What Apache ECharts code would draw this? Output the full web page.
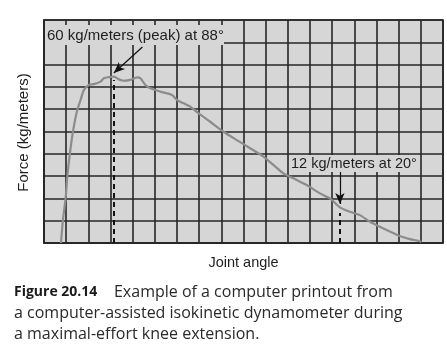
<!DOCTYPE html>
<html>
<head>
<meta charset="utf-8">
<script src="https://cdn.jsdelivr.net/npm/echarts@6/dist/echarts.min.js"></script>
<style>
  html, body { margin: 0; padding: 0; background: #ffffff; }
  #chart { width: 447px; height: 358px; }
</style>
</head>
<body>
<div id="chart"></div>
<script>
// ---- data ----
const angleDeg = [103.9, 103.3, 102.5, 102.0, 101.2, 100.3, 99.0, 98.0, 97.0, 95.5, 94.0, 92.0, 91.0, 89.5, 88.0, 86.5, 85.0, 83.0, 81.0, 80.0, 78.5, 77.0, 74.0, 70.5, 69.0, 67.0, 65.0, 62.5, 59.0, 55.0, 51.0, 47.0, 43.0, 40.0, 37.0, 34.0, 30.0, 26.0, 23.0, 20.0, 17.0, 14.0, 11.0, 8.0, 5.0, 2.0, -1.0, -3.5, -4.5];
const forceKgM = [0, 8.3, 16.0, 23.8, 32.2, 39.9, 47.7, 51.3, 54.9, 56.7, 57.0, 57.9, 59.1, 59.5, 59.7, 58.7, 58.2, 58.5, 59.4, 59.1, 56.7, 55.5, 54.3, 53.1, 51.3, 50.1, 48.9, 46.5, 43.5, 39.9, 36.9, 34.0, 31.0, 28.0, 25.0, 23.2, 20.8, 17.8, 16.0, 12.8, 11.2, 10.0, 7.6, 5.8, 4.1, 2.5, 1.4, 0.8, 0.4];

const angleRange = [-11, 109];       // joint angle shown across the plot (reversed)
const forceRange = [0, 80];
const forceStep = 8;                 // one grid row
const gridColumns = 18;

const peakAngle = 88, peakForce = 60, peakLineTop = 58.5;
const endAngle = 20, endForce = 12, endLineTop = 10.8;
const peakArrow = [[79.4, 70.3], [88, 61]];
const endArrow = [[20, 25.5], [20, 14.0]];

const peakLabel = '60 kg/meters (peak) at 88°';
const endLabel = '12 kg/meters at 20°';
const xTitle = 'Joint angle';
const yTitle = 'Force (kg/meters)';
const captionLines = [
  ['Figure 20.14', '    Example of a computer printout from'],
  ['', 'a computer-assisted isokinetic dynamometer during'],
  ['', 'a maximal-effort knee extension.']
];

const chart = echarts.init(document.getElementById('chart'), null, { renderer: 'canvas' });

const gridLine = { color: '#262626', width: 1.6 };
const dashStyle = { color: '#111', width: 2, type: [5, 4] };
const arrowStyle = { color: '#111', width: 1.2, type: 'solid' };

const captionGraphics = captionLines.map((ln, i) => ({
  type: 'text',
  left: 14,
  top: 284 + i * 21,
  z: 10,
  style: {
    text: (ln[0] ? '{b|' + ln[0] + '}' : '') + ln[1],
    font: '16px "Open Sans", sans-serif',
    fill: '#2a2a2a',
    rich: { b: { font: 'bold 14px "Open Sans", sans-serif', fill: '#1a1a1a' } }
  }
}));

chart.setOption({
  animation: false,
  backgroundColor: '#ffffff',
  grid: {
    left: 44, top: 20, width: 399, height: 223,
    show: true, backgroundColor: '#d6d6d6',
    borderColor: '#262626', borderWidth: 1.6
  },
  xAxis: [
    {
      type: 'value', min: 0, max: gridColumns, interval: 1,
      axisLine: { show: true, lineStyle: gridLine },
      axisTick: { show: false }, axisLabel: { show: false },
      splitLine: { show: true, lineStyle: gridLine }
    },
    {
      type: 'value', min: angleRange[0], max: angleRange[1], inverse: true,
      show: false, splitLine: { show: false }
    }
  ],
  yAxis: {
    type: 'value', min: forceRange[0], max: forceRange[1], interval: forceStep,
    axisLine: { show: true, lineStyle: gridLine },
    axisTick: { show: false }, axisLabel: { show: false },
    splitLine: { show: true, lineStyle: gridLine }
  },
  series: [
    {
      type: 'line',
      xAxisIndex: 1,
      data: angleDeg.map((a, i) => [a, forceKgM[i]]),
      showSymbol: false,
      smooth: 0.25,
      lineStyle: { color: '#8c8c8c', width: 2.2 },
      z: 3,
      markLine: {
        silent: true,
        animation: false,
        label: { show: false },
        data: [
          [{ coord: [peakAngle, 0], symbol: 'none', lineStyle: dashStyle },
           { coord: [peakAngle, peakLineTop], symbol: 'none' }],
          [{ coord: [endAngle, 0], symbol: 'none', lineStyle: dashStyle },
           { coord: [endAngle, endLineTop], symbol: 'none' }],
          [{ coord: peakArrow[0], symbol: 'none', lineStyle: arrowStyle },
           { coord: peakArrow[1], symbol: 'arrow', symbolSize: [7, 11] }],
          [{ coord: endArrow[0], symbol: 'none', lineStyle: arrowStyle },
           { coord: endArrow[1], symbol: 'arrow', symbolSize: [7, 11] }]
        ]
      }
    }
  ],
  graphic: [
    { type: 'rect', shape: { x: 45, y: 25, width: 179, height: 20 }, style: { fill: '#d6d6d6' }, z: 5 },
    { type: 'text', x: 47, y: 36, z: 10,
      style: { text: peakLabel, font: '15px "Liberation Sans", Arial, sans-serif', fill: '#1e1e1e', verticalAlign: 'middle' } },
    { type: 'rect', shape: { x: 290, y: 155, width: 130, height: 17 }, style: { fill: '#d6d6d6' }, z: 5 },
    { type: 'text', x: 291, y: 163.5, z: 10,
      style: { text: endLabel, font: '14.5px "Liberation Sans", Arial, sans-serif', fill: '#1e1e1e', verticalAlign: 'middle' } },
    { type: 'text', x: 243.5, y: 263, z: 10,
      style: { text: xTitle, font: '14.5px "Liberation Sans", Arial, sans-serif', fill: '#1e1e1e', align: 'center', verticalAlign: 'middle' } },
    { type: 'text', x: 24, y: 132.5, rotation: Math.PI / 2, z: 10,
      style: { text: yTitle, font: '15px "Liberation Sans", Arial, sans-serif', fill: '#1e1e1e', align: 'center', verticalAlign: 'middle' } }
  ].concat(captionGraphics)
});
</script>
</body>
</html>
